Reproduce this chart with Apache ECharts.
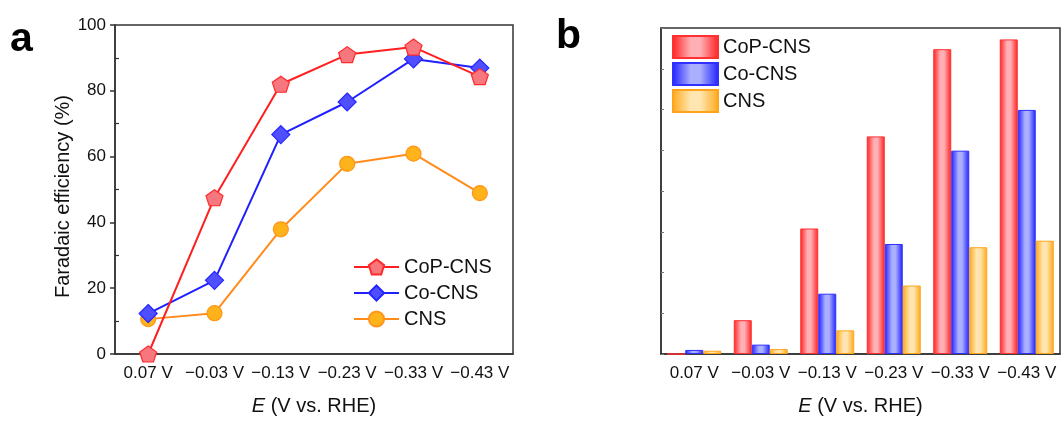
<!DOCTYPE html>
<html>
<head>
<meta charset="utf-8">
<script src="https://cdn.jsdelivr.net/npm/echarts@6/dist/echarts.min.js"></script>
<style>
  html, body { margin: 0; padding: 0; background: #fff; }
  #chart { width: 1062px; height: 421px; }
</style>
</head>
<body>
<div id="chart"></div>
<script>
// Potentials (V vs. RHE)
const categories = ['0.07 V', '\u22120.03 V', '\u22120.13 V', '\u22120.23 V', '\u22120.33 V', '\u22120.43 V'];
const seriesNames = ['CoP-CNS', 'Co-CNS', 'CNS'];

// (a) Faradaic efficiency, %
const feCoP = [0, 47.5, 82, 91, 93.3, 84.3];
const feCo = [12.3, 22.4, 66.7, 76.6, 89.7, 86.9];
const feCNS = [10.6, 12.4, 37.9, 57.8, 60.9, 48.9];
const feTicks = [0, 20, 40, 60, 80, 100];
const feMinorTicks = [10, 30, 50, 70, 90];

// (b) yield, arbitrary units
const yieldCoP = [0, 8.3, 30.8, 53.4, 74.8, 77.2];
const yieldCo = [1.0, 2.3, 14.8, 27.0, 49.9, 59.9];
const yieldCNS = [0.8, 1.2, 5.8, 16.8, 26.2, 27.8];

const FONT = 'Liberation Sans, Arial, sans-serif';
const AXIS = '#333';

const chart = echarts.init(document.getElementById('chart'), null, { renderer: 'canvas' });

function barGradient(edge, mid) {
  return new echarts.graphic.LinearGradient(0, 0, 1, 0, [
    { offset: 0, color: edge },
    { offset: 0.4, color: mid },
    { offset: 0.6, color: mid },
    { offset: 1, color: edge }
  ]);
}

const pentagon = 'path://M50,0 L97.55,34.55 L79.39,90.45 L20.61,90.45 L2.45,34.55 Z';

const xAxisName = {
  name: '{i|E} (V vs. RHE)',
  nameLocation: 'middle',
  nameGap: 42,
  nameTextStyle: {
    fontFamily: FONT, fontSize: 20, color: '#111',
    rich: { i: { fontFamily: FONT, fontSize: 20, fontStyle: 'italic', color: '#111' } }
  }
};

function categoryAxis(gridIndex) {
  return Object.assign({
    type: 'category', gridIndex: gridIndex, data: categories, boundaryGap: true,
    axisLine: { lineStyle: { color: AXIS, width: 1.5 } },
    axisTick: { alignWithLabel: true, interval: 0, length: 5, lineStyle: { color: AXIS, width: 1.5 } },
    axisLabel: { interval: 0, fontFamily: FONT, fontSize: 17, color: '#111', margin: 11 }
  }, xAxisName);
}

const option = {
  backgroundColor: '#fff',
  animation: false,
  textStyle: { fontFamily: FONT },
  graphic: [
    { type: 'text', left: 10, top: 19, style: { text: 'a', font: 'bold 41px ' + FONT, fill: '#000' } },
    { type: 'text', left: 556, top: 16, style: { text: 'b', font: 'bold 41px ' + FONT, fill: '#000' } }
  ],
  grid: [
    { left: 115, top: 25, width: 398, height: 330, show: true, borderColor: AXIS, borderWidth: 1.5, backgroundColor: 'transparent' },
    { left: 661, top: 28, width: 399, height: 329, show: true, borderColor: AXIS, borderWidth: 1.5, backgroundColor: 'transparent' }
  ],
  legend: [
    {
      data: seriesNames.map(n => ({ name: n + ' ' })),
      left: 353, top: 257, orient: 'vertical',
      itemWidth: 45, itemHeight: 19, itemGap: 6, padding: 0,
      textStyle: { fontFamily: FONT, fontSize: 20, color: '#111' }
    },
    {
      data: seriesNames.map(n => ({ name: n, icon: 'rect' })),
      left: 672, top: 35, orient: 'vertical',
      itemWidth: 45, itemHeight: 22, itemGap: 3, padding: 0,
      textStyle: { fontFamily: FONT, fontSize: 20, color: '#111' }
    }
  ],
  xAxis: [categoryAxis(0), categoryAxis(1)],
  yAxis: [
    {
      type: 'value', gridIndex: 0, min: 0, max: 100, interval: 20, position: 'left',
      name: 'Faradaic efficiency (%)', nameLocation: 'middle', nameGap: 42, nameRotate: 90,
      nameTextStyle: { fontFamily: FONT, fontSize: 20, color: '#111', padding: [0, 14, 0, 0] },
      axisLine: { show: true, lineStyle: { color: AXIS, width: 1.5 } },
      axisTick: { show: true, length: 5, lineStyle: { color: AXIS, width: 1.5 }, customValues: feTicks },
      axisLabel: { fontFamily: FONT, fontSize: 17, color: '#111', margin: 9, customValues: feTicks },
      splitLine: { show: false }
    },
    {
      type: 'value', gridIndex: 0, min: 0, max: 100, interval: 10, position: 'left',
      axisLine: { show: false },
      axisTick: { show: true, inside: true, length: 4, lineStyle: { color: AXIS, width: 1.2 }, customValues: feMinorTicks },
      axisLabel: { show: false },
      splitLine: { show: false }
    },
    {
      type: 'value', gridIndex: 1, min: 0, max: 80, interval: 10, position: 'left',
      axisLine: { show: true, lineStyle: { color: AXIS, width: 1.5 } },
      axisTick: { show: true, inside: true, length: 3, lineStyle: { color: '#777', width: 1 } },
      axisLabel: { show: false },
      splitLine: { show: false }
    }
  ],
  series: [
    {
      name: 'CNS ', type: 'line', xAxisIndex: 0, yAxisIndex: 0, data: feCNS,
      symbol: 'circle', symbolSize: 15,
      lineStyle: { color: '#ff8c1a', width: 2 },
      itemStyle: { color: '#ffb31a', borderColor: '#ff951a', borderWidth: 1.2 },
      z: 2
    },
    {
      name: 'Co-CNS ', type: 'line', xAxisIndex: 0, yAxisIndex: 0, data: feCo,
      symbol: 'diamond', symbolSize: 18,
      lineStyle: { color: '#1f1fff', width: 2 },
      itemStyle: { color: '#4f4fff', borderColor: '#2626ff', borderWidth: 1.2 },
      z: 3
    },
    {
      name: 'CoP-CNS ', type: 'line', xAxisIndex: 0, yAxisIndex: 0, data: feCoP,
      symbol: pentagon, symbolSize: [17, 16],
      lineStyle: { color: '#ff1f1f', width: 2 },
      itemStyle: { color: '#f7777f', borderColor: '#ff2a2a', borderWidth: 1.2 },
      z: 4
    },
    {
      name: 'CoP-CNS', type: 'bar', xAxisIndex: 1, yAxisIndex: 2, data: yieldCoP,
      barWidth: 18, barGap: '0%',
      itemStyle: { color: barGradient('#ff1f1f', '#ffb0b5'), borderColor: '#ff3030', borderWidth: 1 }
    },
    {
      name: 'Co-CNS', type: 'bar', xAxisIndex: 1, yAxisIndex: 2, data: yieldCo,
      barWidth: 18, barGap: '0%',
      itemStyle: { color: barGradient('#1f1fff', '#aab0ff'), borderColor: '#3030ff', borderWidth: 1 }
    },
    {
      name: 'CNS', type: 'bar', xAxisIndex: 1, yAxisIndex: 2, data: yieldCNS,
      barWidth: 18, barGap: '0%',
      itemStyle: { color: barGradient('#ffa81a', '#ffe6b0'), borderColor: '#ffa41a', borderWidth: 1 }
    }
  ]
};

chart.setOption(option);
</script>
</body>
</html>
